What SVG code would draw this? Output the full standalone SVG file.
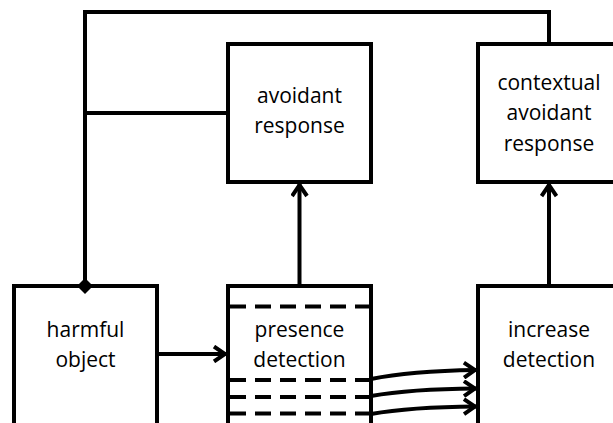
<svg xmlns="http://www.w3.org/2000/svg" width="613" height="423" viewBox="0 0 613 423">
<style>
.box{fill:#fff;stroke:#000;stroke-width:4}
.ln{fill:none;stroke:#000;stroke-width:4}
.dash{fill:none;stroke:#000;stroke-width:4;stroke-dasharray:16 9}
text{font-family:"Open Sans","Liberation Sans",sans-serif;font-size:21px;fill:#000;text-anchor:middle}
</style>
<defs>
<marker id="arr" viewBox="0 0 15 18" refX="14" refY="9" markerWidth="15" markerHeight="18" markerUnits="userSpaceOnUse" orient="auto">
<path d="M2,1.5 L13,9 L2,16.5" fill="none" stroke="#000" stroke-width="4"/>
</marker>
<marker id="dia" viewBox="0 0 16 16" refX="8" refY="8" markerWidth="16" markerHeight="16" markerUnits="userSpaceOnUse" orient="auto">
<path d="M8,0 L16,8 L8,16 L0,8 Z" fill="#000"/>
</marker>
</defs>
<g id="n-harmful">
<rect class="box" x="14" y="286" width="143" height="145"/>
<text x="85.5" y="337">harmful</text>
<text x="85.5" y="367">object</text>
</g>
<g id="n-presence">
<rect class="box" x="228" y="286" width="143" height="145"/>
<line class="dash" x1="230" y1="306.5" x2="369" y2="306.5"/>
<line class="dash" x1="230" y1="380" x2="369" y2="380"/>
<line class="dash" x1="230" y1="397" x2="369" y2="397"/>
<line class="dash" x1="230" y1="413.5" x2="369" y2="413.5"/>
<text x="299.5" y="337">presence</text>
<text x="299.5" y="367">detection</text>
</g>
<g id="n-increase">
<rect class="box" x="478" y="286" width="145" height="145"/>
<text x="549" y="337">increase</text>
<text x="549" y="367">detection</text>
</g>
<g id="n-avoidant">
<rect class="box" x="228" y="44" width="143" height="138"/>
<text x="299.5" y="103">avoidant</text>
<text x="299.5" y="133">response</text>
</g>
<g id="n-contextual">
<rect class="box" x="478" y="44" width="145" height="138"/>
<text x="549" y="90">contextual</text>
<text x="549" y="120">avoidant</text>
<text x="549" y="151">response</text>
</g>
<g id="connectors">
<path class="ln" d="M549,44 L549,12 L85,12 L85,286" marker-end="url(#dia)"/>
<line class="ln" x1="85" y1="113" x2="228" y2="113"/>
<line class="ln" x1="157" y1="354" x2="226" y2="354" marker-end="url(#arr)"/>
<line class="ln" x1="299.5" y1="286" x2="299.5" y2="184" marker-end="url(#arr)"/>
<line class="ln" x1="549" y1="286" x2="549" y2="184" marker-end="url(#arr)"/>
<path class="ln" d="M371,379 Q410,371 476,370" marker-end="url(#arr)"/>
<path class="ln" d="M371,396 Q410,389 476,388.5" marker-end="url(#arr)"/>
<path class="ln" d="M371,414 Q410,407 476,406.5" marker-end="url(#arr)"/>
</g>
</svg>
